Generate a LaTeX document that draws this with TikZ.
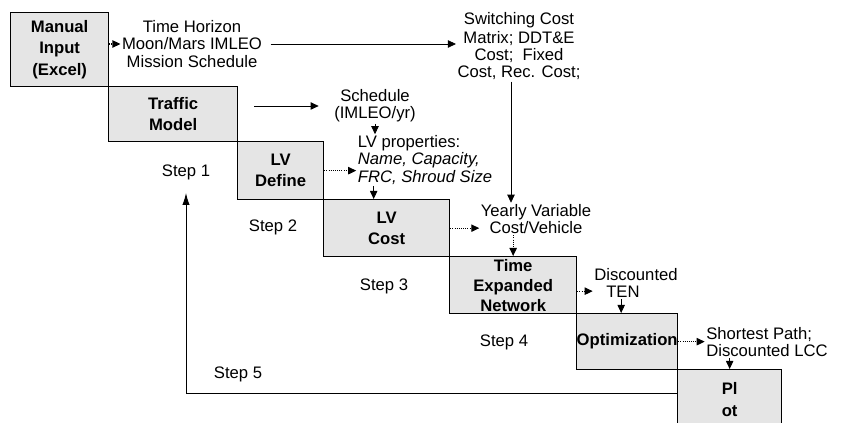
\documentclass[tikz,border=0pt]{standalone}
\usepackage{fontspec}
\setmainfont{Liberation Sans}
\usetikzlibrary{arrows.meta, positioning, calc}

\begin{document}
\begin{tikzpicture}[
    x=0.75pt, y=-0.75pt,
    every node/.style={font=\fontsize{12.5}{12.8}\selectfont, inner sep=1pt},
    stepbox/.style={
        draw, line width=1pt, fill=gray!20, anchor=north west,
        align=center, inner sep=0pt,
        font=\bfseries\fontsize{12.5}{16}\selectfont
    },
    info/.style={align=center},
    flow/.style={-{Triangle[length=6pt,width=5.5pt]}, line width=0.6pt},
    dotflow/.style={flow, densely dotted, line width=0.8pt},
    back/.style={-{Latex[length=9pt,width=5.5pt]}, line width=0.7pt}
]
    % Frame: 1 unit = 1 px of the 844 x 423 page.
    \def\u{0.75pt}
    \clip (0,0) rectangle (844,423);

    % Staircase of steps.
    \node[stepbox, minimum width=98*\u, minimum height=74*\u] (manual) at (10,12) {Manual\\Input\\(Excel)};
    \node[stepbox, minimum width=129*\u, minimum height=55*\u] (traffic) at (108,86) {Traffic\\Model};
    \node[stepbox, minimum width=86*\u, minimum height=58*\u] (define) at (237,141) {LV\\Define};
    \node[stepbox, minimum width=126*\u, minimum height=57*\u] (cost) at (323,199) {LV\\Cost};
    \node[stepbox, minimum width=127*\u, minimum height=57*\u,
          font=\bfseries\fontsize{12.5}{15}\selectfont] (ten) at (449,256) {Time\\Expanded\\Network};
    \node[stepbox, minimum width=101*\u, minimum height=56*\u] (optim) at (576,313) {Optimization};
    \node[stepbox, minimum width=104*\u, minimum height=60*\u] (plot) at (677,369) {Pl\\ot};

    % Data passed between steps.
    \node[info] (horizon) at (192,44) {Time Horizon\\Moon/Mars IMLEO\\Mission Schedule};
    \node[info] (switch) at (519,46) {Switching Cost\\[2pt]Matrix; DDT\&E\\Cost;\ \ Fixed\\Cost, Rec. Cost;};
    \node[info] (schedule) at (375,106) {Schedule\\(IMLEO/yr)};
    \node[align=left] (props) at (425,160) {LV properties:\\\textit{Name, Capacity,}\\\textit{FRC, Shroud Size}};
    \node[info] (yearly) at (536,219) {Yearly Variable\\Cost/Vehicle};
    \node[align=left] (disc) at (636,283) {Discounted\\\hspace*{9pt}TEN};
    \node[align=left] (short) at (767,342) {Shortest Path;\\Discounted LCC};

    % Step labels.
    \node (s1) at (186,172) {Step 1};
    \node (s2) at (273,227) {Step 2};
    \node (s3) at (384,286) {Step 3};
    \node (s4) at (504,342) {Step 4};
    \node (s5) at (238,374) {Step 5};

    % Connectors.
    \draw[dotflow] (manual.east |- horizon.west) -- (horizon.west);
    \draw[flow, shorten <=7*\u] (horizon.east) -- (horizon.east -| switch.west);
    \draw[flow] ([xshift=16*\u]traffic.east |- schedule.west) -- ([xshift=-14*\u]schedule.west);
    \draw[flow] (schedule.south) -- (schedule.south |- props.north);
    \draw[dotflow] (define.east) -- (define.east -| props.west);
    \draw[flow] ([xshift=-13*\u]cost.north |- props.south) -- ([xshift=-13*\u]cost.north);
    \draw[flow] ([xshift=-8*\u]switch.south) -- ([xshift=-8*\u]switch.south |- yearly.north);
    \draw[dotflow] (cost.east) -- (cost.east -| yearly.west);
    \draw[dotflow] (ten.north |- yearly.south) -- (ten.north);
    \draw[dotflow] ([yshift=-6*\u]ten.east) -- ([yshift=-6*\u]ten.east -| disc.west);
    \draw[flow] ([xshift=-6*\u]optim.north |- disc.south) -- ([xshift=-6*\u]optim.north);
    \draw[dotflow] (optim.east) -- (optim.east -| short.west);
    \draw[flow] (plot.north |- short.south) -- (plot.north);

    % Loop back to step 1.
    \coordinate (loop) at (186,193);
    \draw[back] ([yshift=6*\u]plot.west) -| (loop);
\end{tikzpicture}
\end{document}
